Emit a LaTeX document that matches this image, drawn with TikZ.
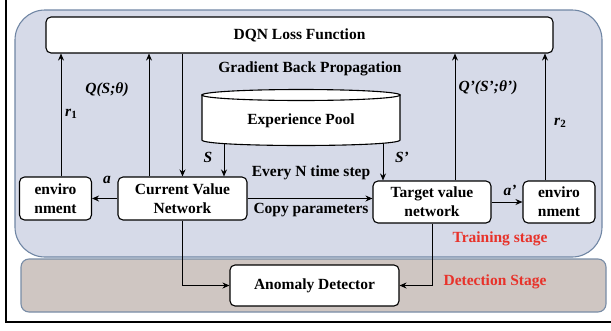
\documentclass[tikz,border=0pt]{standalone}
\usepackage{fontspec}
\setmainfont{Liberation Serif}
\usetikzlibrary{arrows.meta}
\pgfdeclarelayer{bg}\pgfdeclarelayer{mid}\pgfsetlayers{bg,mid,main}
\definecolor{trainfill}{RGB}{214,218,232}
\definecolor{trainedge}{RGB}{112,134,164}
\definecolor{detfill}{RGB}{207,198,194}
\definecolor{detedge}{RGB}{120,140,166}
\definecolor{redtxt}{RGB}{232,50,42}
\begin{document}
\begin{tikzpicture}[x=1pt,y=-1pt,
  box/.style={draw=black,line width=1.1pt,fill=white,rounded corners=5pt,align=center,inner sep=0pt,font=\bfseries\fontsize{15.5}{19}\selectfont},
  lbl/.style={font=\bfseries\fontsize{15.5}{19}\selectfont,inner sep=0pt},
  redlbl/.style={lbl,text=redtxt},
  conn/.style={line width=0.9pt,-{Stealth[length=7pt,width=6pt]}}]
\useasboundingbox (0,0) rectangle (611,330);
% frame
\draw[line width=2pt] (6,0) -- (6,322) -- (611,322);
% panels
\begin{pgfonlayer}{bg}
\draw[fill=trainfill,draw=trainedge,line width=1.1pt,rounded corners=30pt] (15,10) rectangle (602,257);
\draw[fill=detfill,draw=detedge,line width=1.1pt,rounded corners=8pt] (21,259) rectangle (606,312);
\end{pgfonlayer}
% nodes
\node[box,minimum width=507pt,minimum height=36pt] (dqn) at (299.5,35) {DQN Loss Function};
\node[box,minimum width=72pt,minimum height=43pt] (env1) at (55.5,198.5) {enviro\\nment};
\node[box,minimum width=129pt,minimum height=43pt] (cvn) at (182.5,198.5) {Current Value\\Network};
\node[box,minimum width=118pt,minimum height=42pt] (tvn) at (432,202) {Target value\\network};
\node[box,minimum width=72pt,minimum height=42pt] (env2) at (559,202) {enviro\\nment};
\node[box,minimum width=169pt,minimum height=41pt] (anom) at (314.5,285.5) {Anomaly Detector};
% cylinder
\draw[line width=1.1pt,fill=white] (202,95) -- (202,140) .. controls (202,147.33) and (400,147.33) .. (400,140) -- (400,95) -- cycle;
\draw[line width=1.1pt,fill=white] (301,95) ellipse[x radius=99,y radius=5.5];
\node[lbl] (pool) at (301,121) {Experience Pool};
% coordinates for connectors
\coordinate (r1x) at (61,0);
\coordinate (qx) at (149,0);
\coordinate (sx) at (224,0);
\coordinate (spx) at (383,0);
\coordinate (qpx) at (455,0);
\coordinate (r2x) at (545,0);
\begin{pgfonlayer}{mid}
\draw[conn] (r1x |- env1.north) -- (r1x |- dqn.south);
\draw[conn] (qx |- cvn.north) -- (qx |- dqn.south);
\draw[conn] (cvn.north |- dqn.south) -- (cvn.north);
\draw[conn] (sx |- pool.center) -- (sx |- cvn.north);
\draw[conn] (spx |- pool.center) -- (spx |- tvn.north);
\draw[conn] (qpx |- tvn.north) -- (qpx |- dqn.south);
\draw[conn] (r2x |- env2.north) -- (r2x |- dqn.south);
\draw[conn] (cvn.west) -- (env1.east);
\draw[conn] (cvn.east) -- (cvn.east -| tvn.west);
\draw[conn] (tvn.east) -- (env2.west);
\draw[conn] (cvn.south) |- (anom.west);
\draw[conn] (tvn.south) |- (anom.east);
\end{pgfonlayer}
% labels
\node[lbl] (gbp) at (310,69) {Gradient Back Propagation};
\node[lbl] (lq) at (107,90) {\itshape Q(S;θ)};
\node[lbl] (lr1) at (71,114) {\itshape r\raisebox{-0.35ex}{\fontsize{11}{11}\selectfont\upshape 1}};
\node[lbl] (ls) at (208,157) {\itshape S};
\node[lbl] (lsp) at (402,157) {\itshape S’};
\node[lbl] (lqp) at (488,88) {\itshape Q’(S’;θ’)};
\node[lbl] (lr2) at (560,123) {\itshape r\raisebox{-0.35ex}{\fontsize{11}{11}\selectfont\upshape 2}};
\node[lbl] (la) at (107,180) {\itshape a};
\node[lbl] (lap) at (510,190) {\itshape a’};
\node[lbl] (lev) at (311,173) {Every N time step};
\node[lbl] (lcp) at (311,210) {Copy parameters};
\node[redlbl] (ltr) at (500,239) {Training stage};
\node[redlbl] (ldet) at (495,282) {Detection Stage};
\end{tikzpicture}
\end{document}
